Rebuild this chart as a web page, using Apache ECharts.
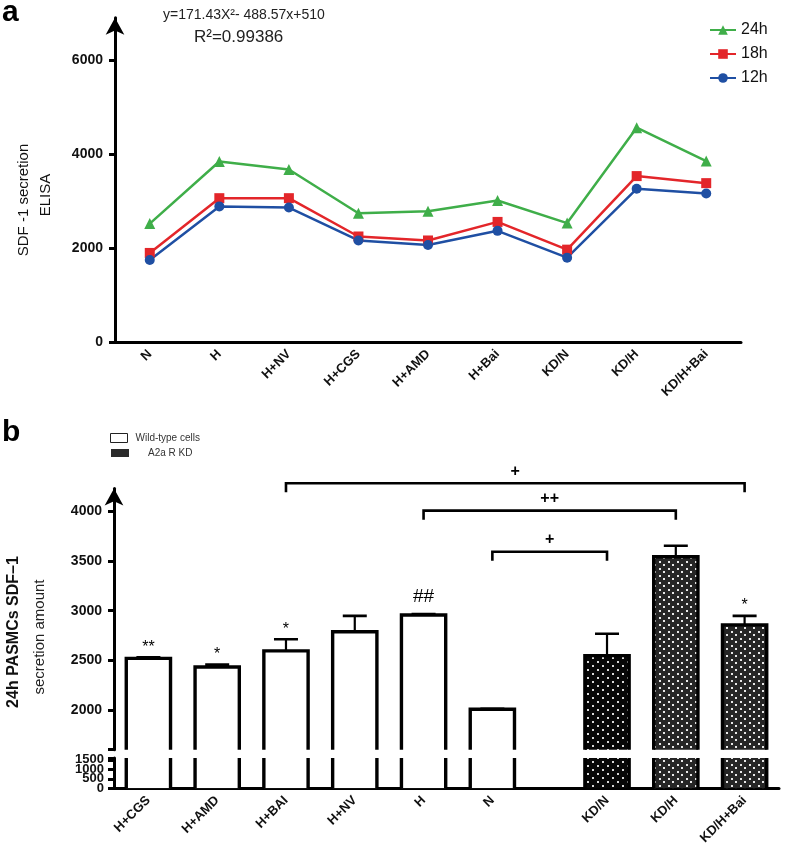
<!DOCTYPE html>
<html><head><meta charset="utf-8">
<script src="https://cdn.jsdelivr.net/npm/echarts@6/dist/echarts.min.js"></script>
<style>html,body{margin:0;padding:0;background:#fff}#c{width:787px;height:851px}</style>
</head><body><div id="c"></div>
<script>
// ---------- Panel a data ----------
const lineCategories = ['N','H','H+NV','H+CGS','H+AMD','H+Bai','KD/N','KD/H','KD/H+Bai'];
const series24h = [2520,3840,3670,2740,2780,3010,2530,4560,3850];
const series18h = [1895,3060,3060,2245,2160,2555,1965,3530,3380];
const series12h = [1745,2885,2860,2160,2065,2365,1795,3260,3160];
const lineYTicks = [0,2000,4000,6000];

// ---------- Panel b data ----------
const wildCategories = ['H+CGS','H+AMD','H+BAI','H+NV','H','N'];
const wildValues = [2520,2433,2595,2787,2957,2007];
const wildErrors = [10,24,117,160,8,5];
const wildMarks = ['**','*','*','','##',''];
const kdCategories = ['KD/N','KD/H','KD/H+Bai'];
const kdValues = [2547,3543,2857];
const kdErrors = [220,110,90];
const kdMarks = ['','','*'];
const barUpperTicks = [2000,2500,3000,3500,4000];
const barLowerTicksA = [0,1000];
const barLowerTicksB = [500,1500];
const compFrom = ['H+BAI','H','N'];
const compTo = ['KD/H+Bai','KD/H','KD/N'];
const compLabel = ['+','++','+'];
const compLevel = [4283,4007,3593];

// ---------- layout helpers ----------
const SUB = 3;           // sub-slots per bar
const BAR_SLOTS = 1.93;  // bar width in sub-slots
const allBarCats = wildCategories.concat(kdCategories);
const slotOf = gi => 1 + SUB * gi + (gi >= wildCategories.length ? 2 : 0);
const nSlots = slotOf(allBarCats.length - 1) + 2;
const slotNames = [];
for (let i = 0; i < nSlots; i++) slotNames.push('_' + i);
allBarCats.forEach((c, i) => { slotNames[slotOf(i)] = c; });
const isReal = (i, v) => !String(v).startsWith('_');
const slotByName = n => slotOf(allBarCats.indexOf(n));
const plain = v => String(v);

function makePattern(bg, tw, th, dots, dotColor) {
  const cv = document.createElement('canvas');
  cv.width = tw; cv.height = th;
  const ctx = cv.getContext('2d');
  ctx.fillStyle = bg; ctx.fillRect(0, 0, tw, th);
  ctx.fillStyle = dotColor;
  dots.forEach(d => ctx.fillRect(d[0], d[1], 2, 2));
  return { image: cv, repeat: 'repeat' };
}
const patKDN = makePattern('#070707', 10, 8, [[2,1],[7,5]], '#d8d8d8');
const patKD = makePattern('#262626', 9, 7, [[2,1],[6,4]], '#e8e8e8');

const FONT = 'Liberation Sans, Arial, sans-serif';

function barSeries(name, cats, values, errors, marks, grid, kd) {
  const data = cats.map((c, i) => [slotByName(c), values[i], errors[i]]);
  return {
    type: 'custom', name, xAxisIndex: grid, yAxisIndex: grid, clip: true, data,
    renderItem: (params, api) => {
      const idx = params.dataIndex;
      const x = api.value(0), v = api.value(1), e = api.value(2);
      const top = api.coord([x, v]);
      const base = api.coord([x, 0]);
      const w = api.size([1, 0])[0] * BAR_SLOTS;
      const l = top[0] - w / 2, r = top[0] + w / 2;
      const fill = kd ? (idx === 0 ? patKDN : patKD) : '#fff';
      const children = [
        { type: 'rect', shape: { x: l, y: top[1], width: w, height: base[1] - top[1] }, style: { fill: fill } },
        { type: 'polyline', shape: { points: [[l, base[1] + 5], [l, top[1]], [r, top[1]], [r, base[1] + 5]] },
          style: { stroke: '#000', lineWidth: 3.4, fill: null } }
      ];
      if (grid === 1) {
        const et = api.coord([x, v + e]);
        children.push({ type: 'line', shape: { x1: top[0], y1: top[1], x2: top[0], y2: et[1] }, style: { stroke: '#000', lineWidth: 2.2 } });
        children.push({ type: 'line', shape: { x1: top[0] - 12, y1: et[1], x2: top[0] + 12, y2: et[1] }, style: { stroke: '#000', lineWidth: 2.6 } });
        const m = marks[idx];
        if (m) {
          const big = m.indexOf('#') >= 0;
          children.push({ type: 'text', x: top[0], y: et[1] - (big ? 8 : 2),
            style: { text: m, fontSize: big ? 19 : 16, fontFamily: FONT, fill: '#000',
              textAlign: 'center', textVerticalAlign: 'bottom' } });
        }
      }
      return { type: 'group', children };
    }
  };
}

const compData = compFrom.map((f, i) => [slotByName(f), compLevel[i], slotByName(compTo[i])]);

const lowerLabel = { formatter: plain, fontSize: 13, fontWeight: 'bold', color: '#111', margin: 10, fontFamily: FONT };

const option = {
  backgroundColor: '#fff',
  animation: false,
  textStyle: { fontFamily: FONT },
  grid: [
    { left: 115, right: 46, top: 17.7, bottom: 509 },
    { left: 114, right: 8, top: 488.5, bottom: 101.3 },
    { left: 114, right: 8, top: 758, bottom: 62.7 }
  ],
  legend: [
    { data: ['24h', '18h', '12h'], orient: 'vertical', left: 704, top: 17, itemWidth: 26, itemHeight: 12, itemGap: 8,
      textStyle: { fontSize: 16, color: '#111', fontFamily: FONT } },
    { data: [{ name: 'Wild-type cells', icon: 'rect', itemStyle: { color: '#fff', borderColor: '#222', borderWidth: 1 } }],
      left: 105, top: 428, itemWidth: 17, itemHeight: 9, selectedMode: false,
      textStyle: { fontSize: 10, color: '#333', fontFamily: FONT, padding: [0, 0, 0, 3] } },
    { data: [{ name: 'A2a R KD', icon: 'rect', itemStyle: { color: '#2a2a2a', borderColor: '#2a2a2a', borderWidth: 0 } }],
      left: 106, top: 443, itemWidth: 18, itemHeight: 8, selectedMode: false,
      textStyle: { fontSize: 10, color: '#333', fontFamily: FONT, padding: [0, 0, 0, 14] } }
  ],
  xAxis: [
    { gridIndex: 0, type: 'category', data: lineCategories, boundaryGap: true,
      axisLine: { lineStyle: { color: '#000', width: 3 } },
      axisTick: { alignWithLabel: true, length: 6, lineStyle: { color: '#000', width: 3 } },
      axisLabel: { rotate: 45, fontSize: 13, fontWeight: 'bold', color: '#111', margin: 10, fontFamily: FONT },
      splitLine: { show: false } },
    { gridIndex: 1, type: 'category', data: slotNames, boundaryGap: true, show: false },
    { gridIndex: 2, type: 'category', data: slotNames, boundaryGap: true,
      axisLine: { lineStyle: { color: '#000', width: 3 } },
      axisTick: { alignWithLabel: true, interval: isReal, length: 6, lineStyle: { color: '#000', width: 3 } },
      axisLabel: { interval: isReal, rotate: 45, fontSize: 13, fontWeight: 'bold', color: '#111', margin: 10, fontFamily: FONT },
      splitLine: { show: false } }
  ],
  yAxis: [
    { gridIndex: 0, type: 'value', min: 0, max: 6900,
      axisLine: { show: true, symbol: ['none', 'arrow'], symbolSize: [14, 17], lineStyle: { color: '#000', width: 3 } },
      axisTick: { show: true, length: 6, customValues: lineYTicks, lineStyle: { color: '#000', width: 3 } },
      axisLabel: { customValues: lineYTicks, formatter: plain, fontSize: 14, fontWeight: 'bold', color: '#111', margin: 12, fontFamily: FONT },
      splitLine: { show: false } },
    { gridIndex: 1, type: 'value', min: 1600, max: 4230,
      axisLine: { show: true, symbol: ['none', 'arrow'], symbolSize: [14, 17], lineStyle: { color: '#000', width: 3 } },
      axisTick: { show: true, length: 6, customValues: [1600].concat(barUpperTicks), lineStyle: { color: '#000', width: 3 } },
      axisLabel: { customValues: barUpperTicks, formatter: plain, fontSize: 14, fontWeight: 'bold', color: '#111', margin: 12, fontFamily: FONT },
      splitLine: { show: false } },
    { gridIndex: 2, type: 'value', min: 0, max: 1600,
      axisLine: { show: true, lineStyle: { color: '#000', width: 3 } },
      axisTick: { show: true, length: 6, customValues: barLowerTicksA.concat([1600]), lineStyle: { color: '#000', width: 3 } },
      axisLabel: Object.assign({ customValues: barLowerTicksA }, lowerLabel),
      splitLine: { show: false } },
    { gridIndex: 2, type: 'value', min: 0, max: 1600, position: 'left', offset: 0,
      axisLine: { show: false },
      axisTick: { show: true, length: 6, customValues: barLowerTicksB, lineStyle: { color: '#000', width: 3 } },
      axisLabel: Object.assign({ customValues: barLowerTicksB }, lowerLabel),
      splitLine: { show: false } }
  ],
  series: [
    { name: '24h', type: 'line', xAxisIndex: 0, yAxisIndex: 0, data: series24h, symbol: 'triangle', symbolSize: 11,
      color: '#3fae49', lineStyle: { width: 2.5 }, itemStyle: { color: '#3fae49' } },
    { name: '18h', type: 'line', xAxisIndex: 0, yAxisIndex: 0, data: series18h, symbol: 'rect', symbolSize: 10,
      color: '#e3262a', lineStyle: { width: 2.5 }, itemStyle: { color: '#e3262a' } },
    { name: '12h', type: 'line', xAxisIndex: 0, yAxisIndex: 0, data: series12h, symbol: 'circle', symbolSize: 10,
      color: '#1f4fa3', lineStyle: { width: 2.5 }, itemStyle: { color: '#1f4fa3' } },
    barSeries('Wild-type cells', wildCategories, wildValues, wildErrors, wildMarks, 1, false),
    barSeries('Wild-type cells', wildCategories, wildValues, wildErrors, wildMarks, 2, false),
    barSeries('A2a R KD', kdCategories, kdValues, kdErrors, kdMarks, 1, true),
    barSeries('A2a R KD', kdCategories, kdValues, kdErrors, kdMarks, 2, true),
    { type: 'custom', name: 'comparisons', xAxisIndex: 1, yAxisIndex: 1, clip: false, data: compData,
      renderItem: (params, api) => {
        const a = api.coord([api.value(0), api.value(1)]);
        const b = api.coord([api.value(2), api.value(1)]);
        const drop = 9;
        return { type: 'group', children: [
          { type: 'polyline', shape: { points: [[a[0], a[1] + drop], [a[0], a[1]], [b[0], a[1]], [b[0], a[1] + drop]] },
            style: { stroke: '#000', lineWidth: 2.6, fill: null } },
          { type: 'text', x: (a[0] + b[0]) / 2, y: a[1] - 4,
            style: { text: compLabel[params.dataIndex], fontSize: 16, fontWeight: 'bold', fontFamily: FONT, fill: '#000',
              textAlign: 'center', textVerticalAlign: 'bottom' } }
        ] };
      } }
  ],
  graphic: [
    { type: 'text', left: 2, top: -2, style: { text: 'a', fontSize: 30, fontWeight: 'bold', fontFamily: FONT, fill: '#000' } },
    { type: 'text', left: 2, top: 418, style: { text: 'b', fontSize: 30, fontWeight: 'bold', fontFamily: FONT, fill: '#000' } },
    { type: 'text', x: 163, y: 15, style: { text: 'y=171.43X²- 488.57x+510', fontSize: 14, fontFamily: FONT, fill: '#222', textVerticalAlign: 'middle' } },
    { type: 'text', x: 194, y: 37, style: { text: 'R²=0.99386', fontSize: 17, fontFamily: FONT, fill: '#222', textVerticalAlign: 'middle' } },
    { type: 'text', x: 24, y: 200, rotation: Math.PI / 2, style: { text: 'SDF -1 secretion', fontSize: 15, fontFamily: FONT, fill: '#111', textAlign: 'center', textVerticalAlign: 'middle' } },
    { type: 'text', x: 46, y: 195, rotation: Math.PI / 2, style: { text: 'ELISA', fontSize: 15, fontFamily: FONT, fill: '#111', textAlign: 'center', textVerticalAlign: 'middle' } },
    { type: 'text', x: 14, y: 632, rotation: Math.PI / 2, style: { text: '24h PASMCs SDF–1', fontSize: 16, fontWeight: 'bold', fontFamily: FONT, fill: '#111', textAlign: 'center', textVerticalAlign: 'middle' } },
    { type: 'text', x: 40, y: 637, rotation: Math.PI / 2, style: { text: 'secretion amount', fontSize: 15, fontFamily: FONT, fill: '#222', textAlign: 'center', textVerticalAlign: 'middle' } }
  ]
};
const chart = echarts.init(document.getElementById('c'));
chart.setOption(option);
</script>
</body></html>
